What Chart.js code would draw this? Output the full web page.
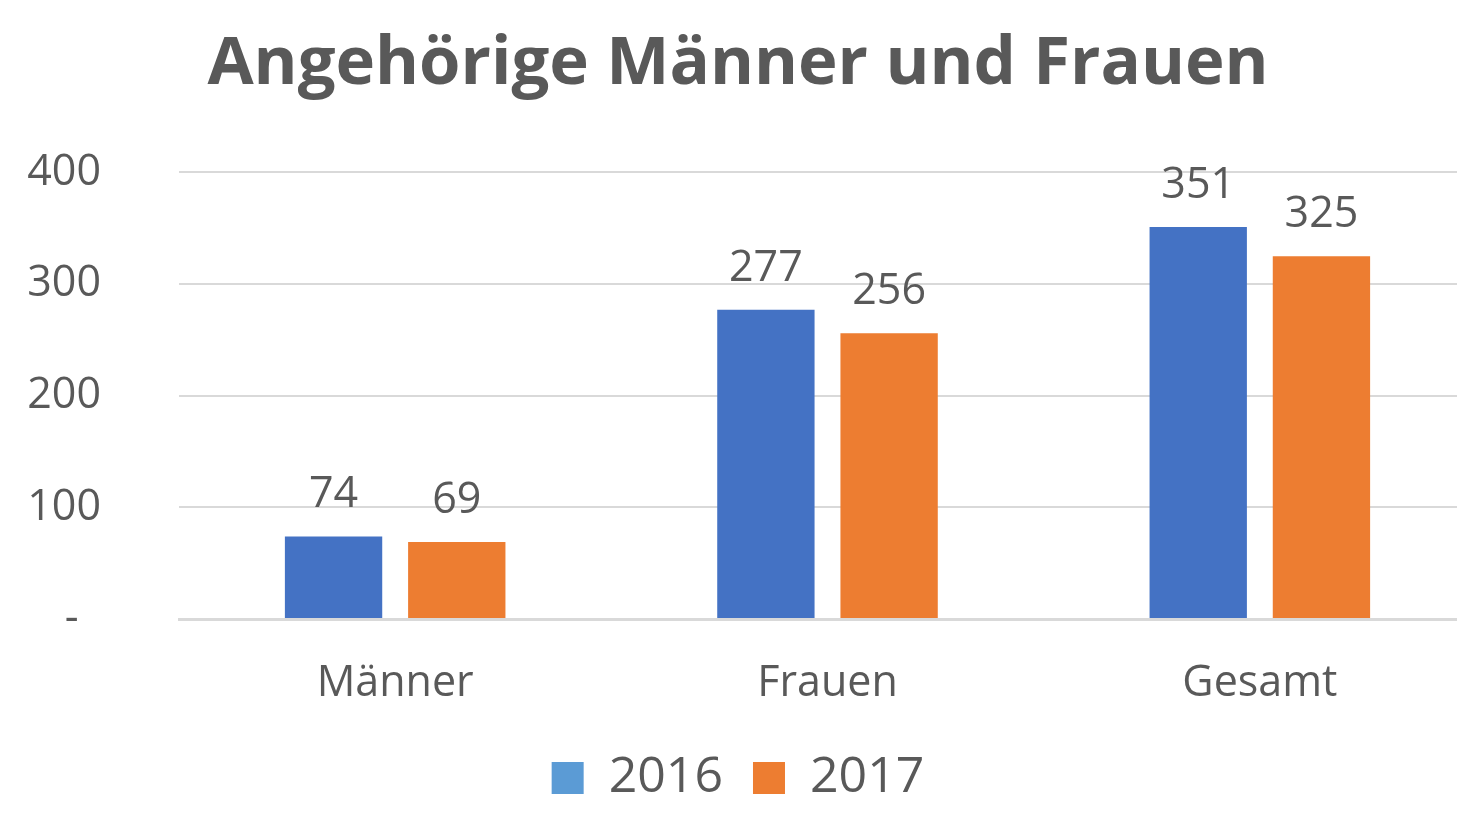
<!DOCTYPE html>
<html lang="de">
<head>
  <meta charset="UTF-8" />
  <title>Angehörige Männer und Frauen</title>
  <script src="https://cdn.jsdelivr.net/npm/chart.js"></script>
  <style>
    html, body {
      margin: 0;
      padding: 0;
      background: #fff;
      overflow: hidden;
    }
  </style>
</head>
<body>
  <canvas id="chart" width="1480" height="813"></canvas>

  <script>
    const categories = ['Männer', 'Frauen', 'Gesamt'];
    const years = ['2016', '2017'];
    const values2016 = [74, 277, 351];
    const values2017 = [69, 256, 325];
    const yTicks = [0, 100, 200, 300, 400];
    const yTickLabels = ['-  ', '100', '200', '300', '400'];

    const grey = '#595959';
    const font = "'Open Sans', sans-serif";

    // draw the value above each bar
    const valueLabels = {
      id: 'valueLabels',
      afterDatasetsDraw(chart) {
        const ctx = chart.ctx;
        ctx.save();
        ctx.fillStyle = grey;
        ctx.font = '43px ' + font;
        ctx.textAlign = 'center';
        ctx.textBaseline = 'alphabetic';
        chart.data.datasets.forEach((ds, i) => {
          chart.getDatasetMeta(i).data.forEach((bar, j) => {
            ctx.fillText(ds.data[j], bar.x, bar.y - 29);
          });
        });
        ctx.restore();
      }
    };

    new Chart(document.getElementById('chart'), {
      type: 'bar',
      data: {
        labels: categories,
        datasets: [
          { label: years[0], data: values2016, backgroundColor: '#4472C4' },
          { label: years[1], data: values2017, backgroundColor: '#ED7D31' }
        ]
      },
      options: {
        responsive: false,
        animation: false,
        devicePixelRatio: 1,
        layout: { padding: { top: 25, bottom: 0, right: 4 } },
        datasets: {
          bar: { categoryPercentage: 0.57, barPercentage: 0.79 }
        },
        plugins: {
          title: {
            display: true,
            text: 'Angehörige Männer und Frauen',
            color: grey,
            font: { family: font, size: 67, weight: 'bold' },
            padding: { top: 0, bottom: 67 }
          },
          legend: {
            position: 'bottom',
            labels: {
              color: grey,
              font: { family: font, size: 50 },
              boxWidth: 32,
              boxHeight: 32,
              padding: 4,
              generateLabels: () => [
                { text: years[0] + '  ', fillStyle: '#5B9BD5', strokeStyle: '#5B9BD5', lineWidth: 0, fontColor: grey },
                { text: years[1], fillStyle: '#ED7D31', strokeStyle: '#ED7D31', lineWidth: 0, fontColor: grey }
              ]
            }
          },
          tooltip: { enabled: false }
        },
        scales: {
          x: {
            afterFit: scale => { scale.height = 130; },
            grid: { display: false },
            border: { color: '#d9d9d9', width: 3 },
            ticks: { color: grey, font: { family: font, size: 43 }, padding: 31 }
          },
          y: {
            min: 0,
            max: 400,
            afterFit: scale => { scale.width = 179; },
            afterBuildTicks: scale => { scale.ticks = yTicks.map(v => ({ value: v })); },
            grid: { color: '#d9d9d9', lineWidth: 2, drawTicks: false },
            border: { display: false },
            ticks: {
              color: grey,
              font: { family: font, size: 43 },
              padding: 78,
              callback: (v, i) => yTickLabels[i]
            }
          }
        }
      },
      plugins: [valueLabels]
    });
  </script>
</body>
</html>
